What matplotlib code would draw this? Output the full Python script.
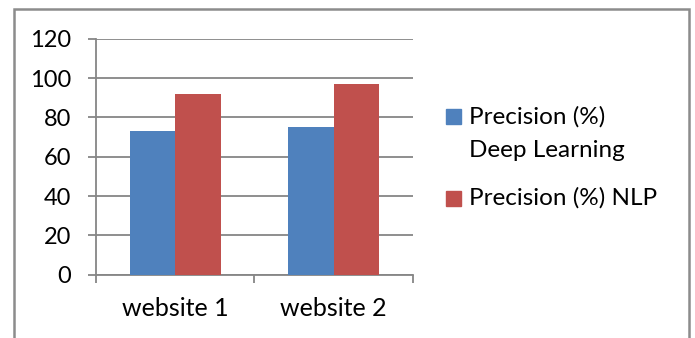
import matplotlib.pyplot as plt
import numpy as np
from matplotlib.patches import Rectangle

plt.rcParams['font.family'] = ['Lato', 'DejaVu Sans']

categories = ['website 1', 'website 2']
series_names = ['Precision (%)\nDeep Learning', 'Precision (%) NLP']
deep_learning = [73, 75]
nlp = [92, 97]
colors = ['#4f81bd', '#c0504d']
grid_color = '#868686'

fig = plt.figure(figsize=(6.95, 3.38), dpi=100)
ax = fig.add_axes([0.1381, 0.1873, 0.4557, 0.6982])

x = np.arange(len(categories))
w = 0.288
ax.bar(x - w / 2, deep_learning, w, color=colors[0], zorder=3)
ax.bar(x + w / 2, nlp, w, color=colors[1], zorder=3)

ax.set_xlim(-0.5, 1.5)
ax.set_ylim(0, 120)
ax.set_yticks(range(0, 121, 20))
ax.yaxis.grid(True, color=grid_color, linewidth=1.3, zorder=0)
ax.tick_params(axis='y', length=5.8, width=1.3, color=grid_color, labelsize=17, pad=12)

# category ticks sit on the group boundaries, labels in the middle
ax.set_xticks([-0.5, 0.5, 1.5])
ax.set_xticklabels([])
ax.set_xticks(x, minor=True)
ax.set_xticklabels(categories, minor=True, fontsize=18)
ax.tick_params(axis='x', which='major', length=5.8, width=1.3, color=grid_color)
ax.tick_params(axis='x', which='minor', length=0, pad=16)

for side in ['top', 'right']:
    ax.spines[side].set_visible(False)
for side in ['left', 'bottom']:
    ax.spines[side].set_color(grid_color)
    ax.spines[side].set_linewidth(1.3)

# legend drawn by hand: square beside the first text line
W, H = 695, 338
legend_rows = [(124, series_names[0], colors[0]), (205, series_names[1], colors[1])]
for base, label, c in legend_rows:
    fig.patches.append(Rectangle((446 / W, 1 - (base + 0.5) / H), 15 / W, 15 / H,
                                 transform=fig.transFigure, color=c))
    for i, line in enumerate(label.split('\n')):
        fig.text(469 / W, 1 - (base + 33 * i) / H, line, fontsize=17.5,
                 va='baseline', ha='left')

# chart frame, running off the bottom edge
fig.patches.append(Rectangle((14 / W, -0.1), 675 / W, 1.1 - 9 / H,
                             transform=fig.transFigure, fill=False,
                             edgecolor='#8c8c8c', linewidth=1.8, clip_on=False))

fig.savefig('out.png', dpi=100)
